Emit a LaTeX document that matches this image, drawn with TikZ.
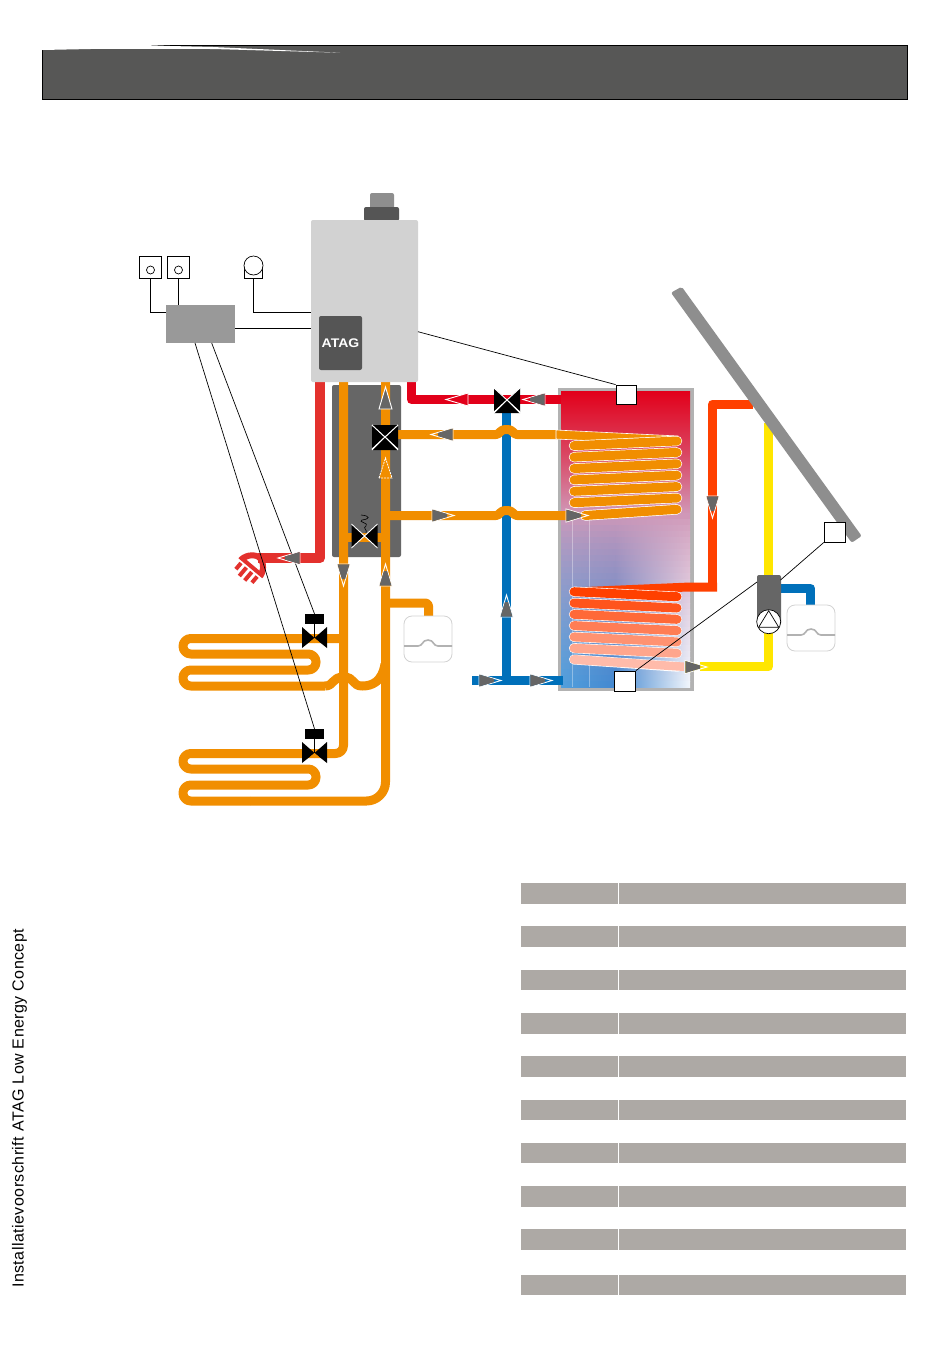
\documentclass[tikz,border=0pt]{standalone}
\usepackage{fontspec}
\setmainfont{Liberation Sans}
\definecolor{headgrey}{HTML}{575756}
\definecolor{rowgrey}{HTML}{ADA9A5}
\definecolor{boilergrey}{HTML}{D2D2D2}
\definecolor{darkgrey}{HTML}{555555}
\definecolor{flowgrey}{HTML}{666666}
\definecolor{midgrey}{HTML}{8E8E8E}
\definecolor{ctrlgrey}{HTML}{999999}
\definecolor{tankgrey}{HTML}{B2B2B2}
\definecolor{lineorange}{HTML}{F18E00}
\definecolor{linered}{HTML}{E2001A}
\definecolor{lampred}{HTML}{E3312D}
\definecolor{lineblue}{HTML}{0070BA}
\definecolor{hotorange}{HTML}{FF4000}
\definecolor{paleorange}{HTML}{FFBBAA}
\definecolor{lineyellow}{HTML}{FFE600}
\definecolor{tanktop}{HTML}{E2001A}
\definecolor{tankmid}{HTML}{D098B8}
\definecolor{tankAb}{HTML}{529FDC}
\definecolor{tankBb}{HTML}{4488D0}
\definecolor{tankCb}{HTML}{F2F6FC}
\tikzset{
	pipe/.style={line width=9pt,line join=round},
	signal/.style={draw=black,line width=0.8pt},
	sensorbox/.style={draw=black,fill=white,line width=0.8pt,inner sep=0pt},
	flowarrow/.pic={
		\draw[white,line width=0.9pt,fill=#1] (0,-6.5)--(22,0)--(0,6.5)--cycle;
		\fill[flowgrey] (0.4,-6)--(15,-1.6)--(15,1.6)--(0.4,6)--cycle;
	},
	plainarrow/.pic={
		\draw[white,line width=0.9pt,fill=#1] (0,-6.5)--(22,0)--(0,6.5)--cycle;
	},
	dashedarrow/.pic={
		\draw[white,line width=0.8pt,dash pattern=on 2pt off 1pt,fill=lineorange] (0,-6.5)--(20,0)--(0,6.5)--cycle;
	},
	valvepair/.pic={
		\fill[black] (-13,-12)--(0,0)--(-13,12)--cycle;
		\fill[black] (13,-12)--(0,0)--(13,12)--cycle;
		\draw[white,line width=0.9pt] (-13,-12)--(13,12) (-13,12)--(13,-12);
	},
	valvebottom/.pic={
		\fill[black] (-13,13)--(0,0)--(13,13)--cycle;
		\draw[white,line width=0.9pt] (-13,13)--(0,0)--(13,13);
	},
	valvetop/.pic={
		\fill[black] (-13,-12)--(0,0)--(13,-12)--cycle;
		\draw[white,line width=0.9pt] (-13,-12)--(0,0)--(13,-12);
	},
	zonevalve/.pic={
		\fill[black] (-12.5,-11)--(0,0)--(-12.5,10)--cycle;
		\fill[black] (12.5,-11)--(0,0)--(12.5,10)--cycle;
		\fill[lineorange] (-4.5,4)--(0,0)--(4.5,4)--(0,5)--cycle;
		\draw[black,line width=0.8pt] (0,-14)--(0,0);
	},
	vessel/.pic={
		\draw[draw=boilergrey,fill=white,rounded corners=8pt,line width=0.8pt] (-24,-23)rectangle(24,23);
		\draw[tankgrey,line width=1.6pt] (-24,7)--(-10,7) .. controls (-5,7) and (-6,1) .. (0,1) .. controls (6,1) and (5,7) .. (10,7)--(24,7);
	},
}
\begin{document}
\begin{tikzpicture}[x=1pt,y=-1pt]
	\useasboundingbox (0,0) rectangle (950,1369);
	\fill[white] (0,0) rectangle (950,1369);
	% header
	\draw[draw=black,fill=headgrey,line width=0.8pt] (42.5,45.5) rectangle (907.5,99.5);
	\fill[white] (41,43) -- (42,50) -- (100,48.8) -- (213,49) -- (340,52.7) -- (213,47) -- (170,46) -- (133,44.5) -- cycle;
	% side text
	\node[rotate=90,inner sep=0pt,font=\fontsize{16}{18}\selectfont\addfontfeature{LetterSpace=2.9}] (sidetext) at (23.5,1288) [anchor=base west] {Installatievoorschrift ATAG Low Energy Concept};
	% table
	\foreach \rowy in {883.3,926,969.7,1013.3,1056,1099.7,1142.5,1186,1229,1274.7}{
		\fill[rowgrey] (520.7,\rowy) rectangle (618,\rowy+20.5);
		\fill[rowgrey] (619.3,\rowy) rectangle (906,\rowy+20.5);
	}
	% tank
	\fill[tankgrey] (558,388) rectangle (694,691);
	\shade[top color=tanktop,bottom color=tankmid,middle color=tanktop!55!tankmid] (561,391) rectangle (690,514);
	\foreach \tanky in {513,519,...,681}{
		\pgfmathsetmacro{\tmix}{100*((\tanky-513)/168)^0.75}
		\shade[left color=tankAb!\tmix!tankmid,right color=tankBb!\tmix!tankmid] (561,\tanky) rectangle (615.2,\tanky+6.2);
		\shade[left color=tankBb!\tmix!tankmid,right color=tankCb!\tmix!tankmid] (615,\tanky) rectangle (690,\tanky+6.2);
	}
	\draw[white,opacity=0.35,line width=0.5pt] (572,520)--(572,687) (589,520)--(589,687);
	% panel under the boiler
	\fill[flowgrey,rounded corners=2pt] (332,385) rectangle (401,557);
	% blue
	\draw[pipe,lineblue] (472,680.5)--(563,680.5);
	\draw[pipe,lineblue] (506.5,400)--(506.5,680.5);
	\draw[pipe,lineblue] (781,588.5)--(810.7,588.5)--(810.7,606);
	% red
	\draw[pipe,linered] (411.5,382)--(411.5,399.5)--(561,399.5);
	\draw[pipe,lampred,line width=10pt] (320,382)--(320,558)--(258,558);
	% yellow and hot pipe
	\draw[pipe,lineyellow] (700,666.5)--(768.5,666.5)--(768.5,423);
	\draw[pipe,hotorange] (753,404)--(712.5,404)--(712.5,587);
	% orange
	\draw[pipe,lineorange] (343.5,382) [rounded corners=8pt] -- (343.5,753.5)--(303,753.5);
	\draw[pipe,lineorange,rounded corners=19pt] (385.5,382)--(385.5,801)--(250,801);
	\draw[pipe,lineorange,rounded corners=7.7pt] (250,801)--(183,801)--(183,785)--(316,785)--(316,769)--(183,769)--(183,753.5)--(303,753.5);
	\draw[pipe,lineorange,rounded corners=7.7pt] (344,638.5)--(183,638.5)--(183,654)--(316,654)--(316,670)--(183,670)--(183,686)--(325,686);
	\draw[pipe,lineorange] (325,686) .. controls (334,686) and (332,677) .. (343.5,677) .. controls (355,677) and (352,686) .. (362,686) .. controls (372,686) and (382,682) .. (385,664);
	\draw[pipe,lineorange,rounded corners=3pt] (385.5,603)--(428.5,603)--(428.5,617);
	\draw[pipe,lineorange] (343.5,537)--(385.5,537);
	\draw[pipe,lineorange] (398,434.5)--(496,434.5) .. controls (500,434.5) and (499,429.5) .. (506.5,429.5) .. controls (514,429.5) and (513,434.5) .. (517,434.5)--(561,434.5);
	\draw[pipe,lineorange] (385.5,515.5)--(496,515.5) .. controls (500,515.5) and (499,510.5) .. (506.5,510.5) .. controls (514,510.5) and (513,515.5) .. (517,515.5)--(570,515.5);
	% coils
	\draw[white,fill=lineorange,line width=0.6pt] (556,430)--(678,436)--(678,445)--(556,439)--cycle;
	\foreach \i in {0,...,5}{
		\pgfmathsetmacro{\ly}{445.7+11.4*\i}
		\pgfmathsetmacro{\ry}{441+11.4*\i}
		\draw[white,line width=10.4pt,line cap=round] (574,\ly)--(677,\ry);
		\draw[lineorange,line width=9pt,line cap=round] (574,\ly)--(677,\ry);
	}
	\draw[white,line width=10.4pt,line cap=round] (585,515.5)--(677,509.3);
	\draw[lineorange,line width=9pt,line cap=round] (585,515.5)--(677,509.3);
	\fill[hotorange] (717,582.5)--(717,591.5)--(690,591.5)--(640,593)--(574,596)--(574,587.5)--(690,582.5)--cycle;
	\foreach \i in {0,...,5}{
		\pgfmathsetmacro{\ly}{591.7+11.3*\i}
		\pgfmathsetmacro{\ry}{596.7+11.3*\i}
		\pgfmathsetmacro{\cmix}{100-\i*16.6}
		\draw[white,line width=10.2pt,line cap=round] (574,\ly)--(677,\ry);
		\draw[hotorange!\cmix!paleorange,line width=9pt,line cap=round] (574,\ly)--(677,\ry);
	}
	\draw[white,line width=10pt,line cap=round] (574,659.5)--(678,666.7);
	\fill[paleorange] (574,655)--(684,662.5)--(684,671)--(574,664)--cycle;
	\fill[paleorange] (574,659.5) circle (4.5);
	% boiler
	\node[fill=boilergrey,minimum width=107pt,minimum height=162pt,inner sep=0pt,rounded corners=2pt] (boiler) at (364.5,301) {};
	\fill[midgrey,rounded corners=2pt] (370,193) rectangle (394,209);
	\fill[darkgrey,rounded corners=2pt] (364,207) rectangle (399,221);
	\fill[boilergrey] (364,220) rectangle (399,223);
	\node[fill=darkgrey,text=white,rounded corners=2pt,minimum width=43pt,minimum height=54pt,inner sep=0pt,font=\fontsize{12.5}{14}\selectfont\bfseries] (badge) at (340.5,343) {\scalebox{1.12}[1]{ATAG}};
	% control unit and room sensors
	\node[fill=ctrlgrey,minimum width=69pt,minimum height=38pt,inner sep=0pt] (ctrlbox) at (200.5,324) {};
	\node[sensorbox,minimum size=22.5pt] (sensA) at (150.5,267.5) {};
	\node[sensorbox,minimum size=22.5pt] (sensB) at (178.5,267.5) {};
	\node[draw=black,circle,inner sep=0pt,minimum size=8pt,line width=0.7pt] (dotA) at (150.5,270) {};
	\node[draw=black,circle,inner sep=0pt,minimum size=8pt,line width=0.7pt] (dotB) at (178.5,270) {};
	\node[sensorbox,minimum width=18.5pt,minimum height=15.5pt] (sensC) at (253.5,271) {};
	\node[draw=black,fill=white,circle,inner sep=0pt,minimum size=19pt,line width=0.7pt] (sensCtop) at (253.5,265.5) {};
	\coordinate (ctrlin) at (166,312.5);
	\coordinate (boilerin) at (311,312.5);
	\coordinate (ctrlout) at (235,328);
	\draw[signal] (sensA.south) |- (ctrlin);
	\draw[signal] (sensB.south) -- (sensB.south |- ctrlbox.north);
	\draw[signal] (sensC.south) |- (boilerin);
	\draw[signal] (ctrlout) -- (ctrlout -| boiler.west);
	% shower lamp
	\begin{scope}[shift={(251,567.5)},rotate=-130]
		\fill[lampred,even odd rule] (1,-15.5) -- (-1,-15.5) .. controls (-10,-14) and (-16,-6) .. (-16,0) .. controls (-16,6) and (-10,14) .. (-1,15.5) -- (1,15.5) -- cycle
			(-3,-8.5) .. controls (-7,-7) and (-10,-3) .. (-10,0) .. controls (-10,3) and (-7,7) .. (-3,8.5) -- cycle;
		\foreach \t/\len in {-10.5/8,-3.5/11,3.5/11,10.5/8}{
			\fill[lampred] (3,\t-2) rectangle (3+\len,\t+2);
		}
	\end{scope}
	% valves
	\pic at (385,437) {valvepair};
	\pic at (385,437) {valvebottom};
	\pic at (385,437) {valvetop};
	\pic at (507,400) {valvepair};
	\pic at (507,400) {valvebottom};
	\draw[black,line width=0.6pt] (361,515) .. controls (371,516) and (370,519) .. (362,520) .. controls (357,522) and (370,523) .. (366,526) .. controls (362,528) and (368,530) .. (366,533);
	\fill[lineorange] (361,535) rectangle (368,542);
	\pic at (364.5,536) {valvepair};
	\pic at (314.5,638) {zonevalve};
	\pic at (314.5,753) {zonevalve};
	\node[fill=black,minimum width=19pt,minimum height=10pt,inner sep=0pt] (actA) at (314.5,619) {};
	\node[fill=black,minimum width=19pt,minimum height=10pt,inner sep=0pt] (actB) at (314.5,734) {};
	\coordinate (ctrlfootA) at (211.7,343);
	\coordinate (ctrlfootB) at (195,343);
	\draw[signal,line width=0.7pt] (ctrlfootA) -- (actA.north);
	\draw[signal,line width=0.7pt] (ctrlfootB) -- (actB.north);
	% flow arrows
	\pic[rotate=180] at (300,558) {flowarrow=lampred};
	\pic[rotate=-90] at (343.5,564) {flowarrow=lineorange};
	\pic[rotate=90] at (385.5,586) {flowarrow=lineorange};
	\pic[rotate=90] at (385.5,409) {plainarrow=flowgrey};
	\pic[rotate=90] at (385.5,478) {dashedarrow};
	\pic[rotate=180] at (468,399.5) {plainarrow=linered};
	\pic[rotate=180] at (545,399.5) {flowarrow=linered};
	\pic[rotate=180] at (453,434.5) {flowarrow=lineorange};
	\pic at (432,515.5) {flowarrow=lineorange};
	\pic at (566,515.5) {flowarrow=lineorange};
	\pic[rotate=90] at (506.5,617) {flowarrow=lineblue};
	\pic at (479,680.5) {flowarrow=lineblue};
	\pic at (530,680.5) {flowarrow=lineblue};
	\pic[rotate=-90] at (712.5,496) {flowarrow=hotorange};
	\pic at (685,667) {flowarrow=lineyellow};
	% collector
	\fill[midgrey,rounded corners=2pt] (671,292.7)--(681.7,286.7)--(861.7,536)--(851.7,542.7)--cycle;
	% pump group
	\node[fill=flowgrey,rounded corners=2pt,minimum width=24pt,minimum height=50pt,inner sep=0pt] (pumpbody) at (769,600) {};
	\node[draw=black,fill=white,circle,inner sep=0pt,minimum size=24pt,line width=0.7pt] (pump) at (768.7,621.7) {};
	\draw[black,line width=0.7pt] (pump.center) ++(0,-11) -- ++(10,16.5) -- ++(-20,0) -- cycle;
	% vessels
	\pic at (428,639) {vessel};
	\pic at (811,628) {vessel};
	% tank sensors
	\node[sensorbox,minimum width=20pt,minimum height=19pt] (tanktopbox) at (626,394.5) {};
	\node[sensorbox,minimum width=21pt,minimum height=20pt] (tanklowbox) at (625,681) {};
	\node[sensorbox,minimum width=21.5pt,minimum height=20pt] (collbox) at (835,532) {};
	\coordinate (boilerout) at (418,331.7);
	\coordinate (pumpright) at (780.5,580);
	\coordinate (pumpleft) at (757,582);
	\draw[signal,line width=0.7pt] (boilerout) -- (tanktopbox.north west);
	\draw[signal,line width=0.7pt] (collbox.south west) -- (pumpright);
	\draw[signal,line width=0.7pt] (pumpleft) -- (tanklowbox.north east);
\end{tikzpicture}
\end{document}
